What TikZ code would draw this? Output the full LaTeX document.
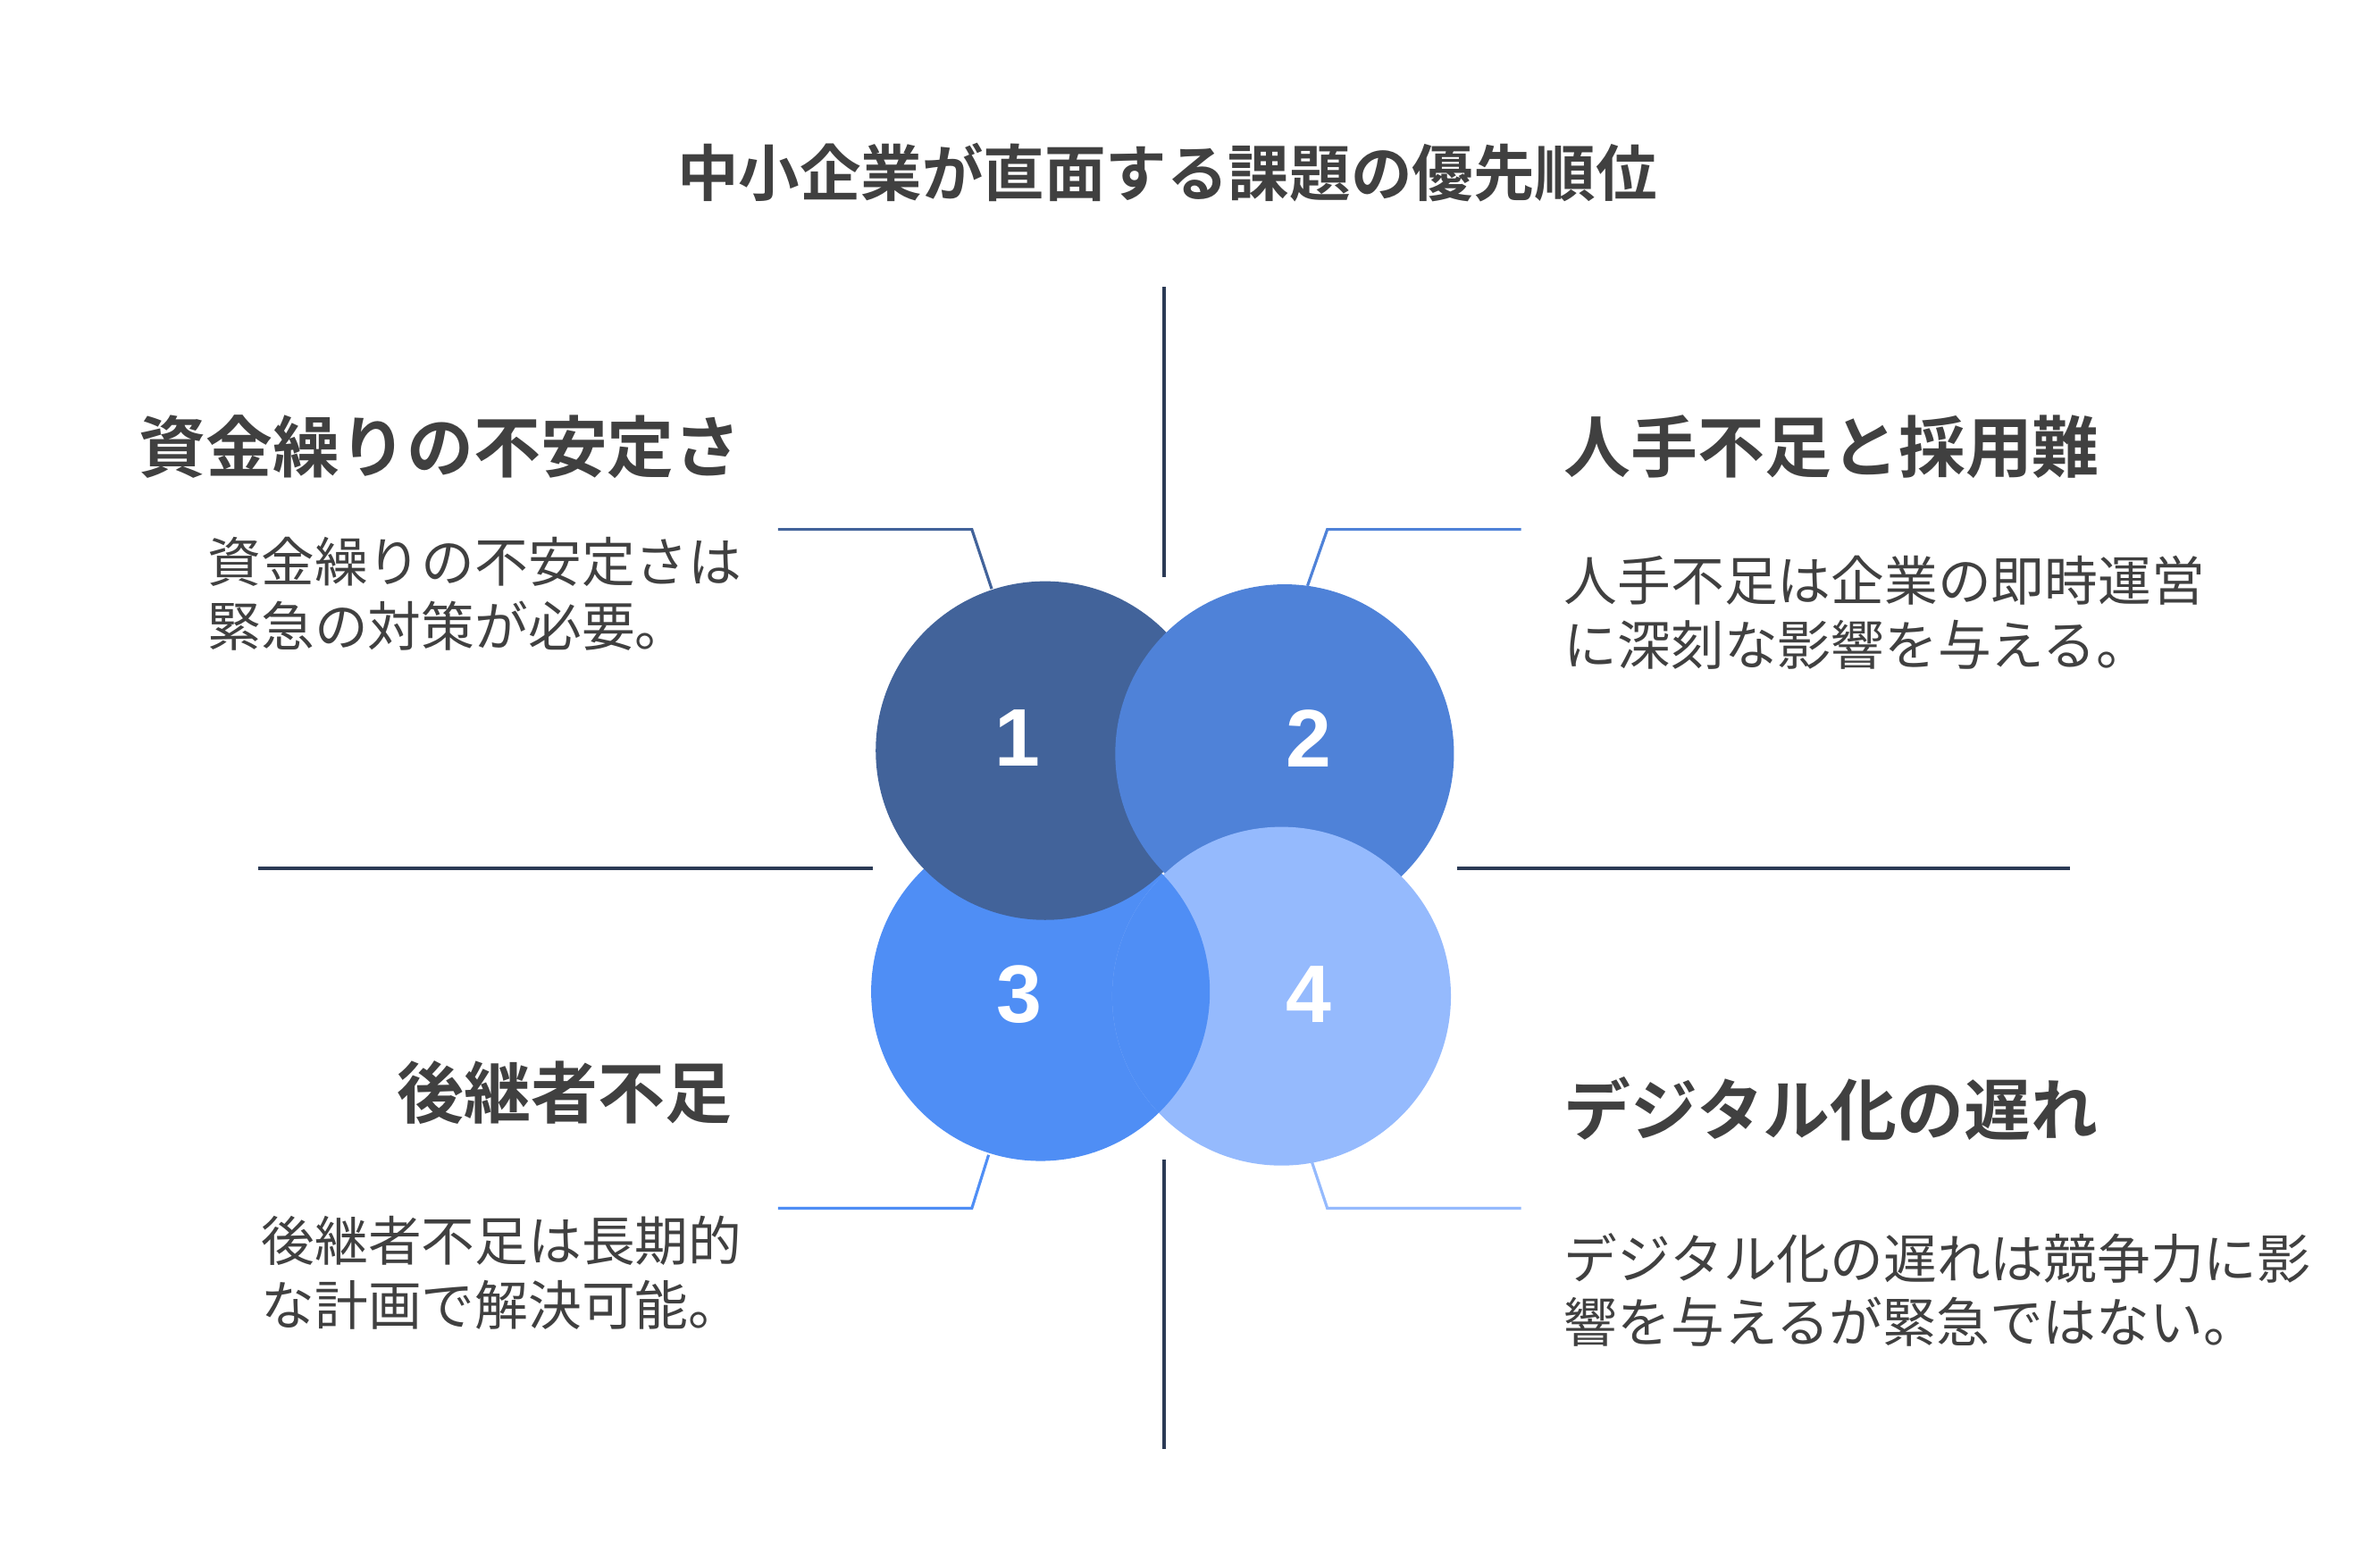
\documentclass[tikz,border=0pt]{standalone}
\usepackage{fontspec}
\newfontfamily\cjk{Noto Sans CJK JP}
\newfontfamily\cjkb{Noto Sans CJK JP Bold}
\newfontfamily\numf{Liberation Sans}
\definecolor{txt}{HTML}{404040}
\definecolor{ln}{HTML}{2B3A55}
\definecolor{ca}{HTML}{42639A}
\definecolor{cb}{HTML}{4F82D8}
\definecolor{cc}{HTML}{4F8EF5}
\definecolor{cd}{HTML}{95BAFD}
\begin{document}
\begin{tikzpicture}[x=0.017077cm,y=-0.017077cm,
  title/.style={font=\cjkb\fontsize{19.5}{23}\selectfont,text=txt},
  head/.style={font=\cjkb\fontsize{21.3}{25}\selectfont,text=txt},
  body/.style={font=\cjk\fontsize{17}{20.4}\selectfont,text=txt,align=left},
  num/.style={font=\numf\bfseries\fontsize{26}{30}\selectfont,text=white},
  sep/.style={draw=ln,line width=1.1pt},
  call/.style={line width=0.9pt}]
\useasboundingbox (0,0) rectangle (1560,1021);
\node[title] (t) at (765,113) {中小企業が直面する課題の優先順位};
\draw[sep] (763,188) coordinate(v1) -- (763,378) coordinate(v2);
\draw[sep] (763,760) coordinate(v3) -- (763,950) coordinate(v4);
\draw[sep] (169,569) coordinate(h1) -- (572,569) coordinate(h2);
\draw[sep] (955,569) coordinate(h3) -- (1357,569) coordinate(h4);
% circles
\fill[cc] (682,650) circle (111);
\fill[ca] (685,492) circle (111);
\fill[cb] (842,494) circle (111);
\fill[cd] (840,653) circle (111);
\begin{scope}
\clip (840,653) circle (111);
\fill[cc] (682,650) circle (111);
\end{scope}
\node[num] (n1) at (667,484) {1};
\node[num] (n2) at (858,484) {2};
\node[num] (n3) at (668,652) {3};
\node[num] (n4) at (858,652) {4};
% callouts
\coordinate (a1) at (510,347); \coordinate (a2) at (637,347); \coordinate (a3) at (650,386);
\draw[call,ca] (a1) -- (a2) -- (a3);
\coordinate (b1) at (997,347); \coordinate (b2) at (870,347); \coordinate (b3) at (857,384);
\draw[call,cb] (b1) -- (b2) -- (b3);
\coordinate (c1) at (510,792); \coordinate (c2) at (637,792); \coordinate (c3) at (648,757);
\draw[call,cc] (c1) -- (c2) -- (c3);
\coordinate (d1) at (997,792); \coordinate (d2) at (870,792); \coordinate (d3) at (860,762);
\draw[call,cd] (d1) -- (d2) -- (d3);
% texts
\node[head,anchor=west] (h1t) at (84,293) {資金繰りの不安定さ};
\node[body,anchor=north west] (b1t) at (129,345) {資金繰りの不安定さは\\緊急の対策が必要。};
\node[head,anchor=west] (h2t) at (1018,293) {人手不足と採用難};
\node[body,anchor=north west] (b2t) at (1018,357) {人手不足は企業の即時運営\\に深刻な影響を与える。};
\node[head,anchor=east] (h3t) at (487,716) {後継者不足};
\node[body,anchor=north west] (b3t) at (164,790) {後継者不足は長期的\\な計画で解決可能。};
\node[head,anchor=west] (h4t) at (1018,727) {デジタル化の遅れ};
\node[body,anchor=north west] (b4t) at (1018,801) {デジタル化の遅れは競争力に影\\響を与えるが緊急ではない。};
\end{tikzpicture}
\end{document}
